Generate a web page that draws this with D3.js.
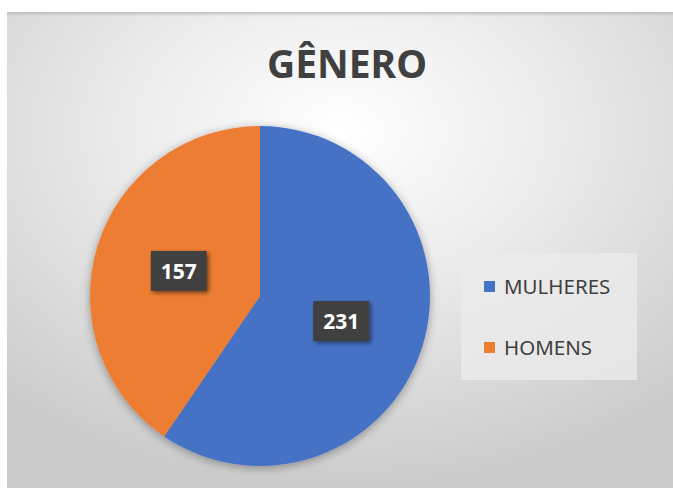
<!DOCTYPE html>
<html>
<head>
<meta charset="utf-8">
<script src="https://cdn.jsdelivr.net/npm/d3@7"></script>
<style>
	body { margin: 0; background: #ffffff; }
	svg { display: block; font-family: "Noto Sans", "Open Sans", sans-serif; }
</style>
</head>
<body>
<div id="chart"></div>
<script>
	//Data
	var categories = ["MULHERES", "HOMENS"];
	var values = [231, 157];
	var colors = ["#4472C4", "#ED7D31"];
	var title = "GÊNERO";

	//SVG setup
	var width = 673;
	var height = 488;
	var frame = { left: 7, top: 12 };

	var svg = d3.select("#chart")
		.append("svg")
		.attr("width", width)
		.attr("height", height);

	var defs = svg.append("defs");

	//Background gradient
	var bg = defs.append("radialGradient")
		.attr("id", "bg")
		.attr("cx", "50%").attr("cy", "25%")
		.attr("r", "75%");
	bg.append("stop").attr("offset", "0%").attr("stop-color", "#ffffff");
	bg.append("stop").attr("offset", "45%").attr("stop-color", "#eaeaea");
	bg.append("stop").attr("offset", "100%").attr("stop-color", "#cbcbcb");

	var topEdge = defs.append("linearGradient")
		.attr("id", "topEdge")
		.attr("x1", 0).attr("y1", 0).attr("x2", 0).attr("y2", 1);
	topEdge.append("stop").attr("offset", "0%").attr("stop-color", "#b8b8b8").attr("stop-opacity", 0.9);
	topEdge.append("stop").attr("offset", "100%").attr("stop-color", "#d0d0d0").attr("stop-opacity", 0);

	//Soft shadow used by pie
	var shadow = defs.append("filter")
		.attr("id", "shadow")
		.attr("x", "-20%").attr("y", "-20%")
		.attr("width", "140%").attr("height", "140%");
	shadow.append("feGaussianBlur").attr("in", "SourceAlpha").attr("stdDeviation", 5).attr("result", "blur");
	shadow.append("feOffset").attr("in", "blur").attr("dx", 0).attr("dy", 2).attr("result", "off");
	shadow.append("feComponentTransfer").attr("in", "off").attr("result", "soft")
		.append("feFuncA").attr("type", "linear").attr("slope", 0.35);
	var merge = shadow.append("feMerge");
	merge.append("feMergeNode").attr("in", "soft");
	merge.append("feMergeNode").attr("in", "SourceGraphic");

	//Shadow for label boxes
	var boxShadow = defs.append("filter")
		.attr("id", "boxShadow")
		.attr("x", "-30%").attr("y", "-30%")
		.attr("width", "160%").attr("height", "160%");
	boxShadow.append("feGaussianBlur").attr("in", "SourceAlpha").attr("stdDeviation", 2).attr("result", "blur");
	boxShadow.append("feOffset").attr("in", "blur").attr("dx", 2).attr("dy", 2).attr("result", "off");
	boxShadow.append("feComponentTransfer").attr("in", "off").attr("result", "soft")
		.append("feFuncA").attr("type", "linear").attr("slope", 0.5);
	var merge2 = boxShadow.append("feMerge");
	merge2.append("feMergeNode").attr("in", "soft");
	merge2.append("feMergeNode").attr("in", "SourceGraphic");

	//Chart area
	svg.append("rect")
		.attr("x", frame.left).attr("y", frame.top)
		.attr("width", width - frame.left).attr("height", height - frame.top)
		.attr("fill", "url(#bg)");
	svg.append("rect")
		.attr("x", frame.left).attr("y", frame.top)
		.attr("width", width - frame.left).attr("height", 5)
		.attr("fill", "url(#topEdge)");

	//Title
	svg.append("text")
		.attr("x", 347)
		.attr("y", 78)
		.attr("text-anchor", "middle")
		.attr("font-size", 39)
		.attr("font-weight", "bold")
		.attr("fill", "#404040")
		.text(title);

	//Pie
	var radius = 170;
	var pieG = svg.append("g")
		.attr("transform", "translate(260,296)");

	var pie = d3.pie().sort(null).value(function(d) { return d; });
	var arc = d3.arc().innerRadius(0).outerRadius(radius);
	var arcs = pie(values);

	pieG.append("g")
		.attr("filter", "url(#shadow)")
		.selectAll("path")
		.data(arcs)
		.enter()
		.append("path")
		.attr("d", arc)
		.attr("fill", function(d, i) { return colors[i]; });

	//Data labels
	var labels = pieG.selectAll(".label")
		.data(arcs)
		.enter()
		.append("g")
		.attr("class", "label")
		.attr("transform", function(d) {
			var c = arc.centroid(d);
			return "translate(" + c[0] + "," + c[1] + ")";
		});
	labels.append("rect")
		.attr("x", -28).attr("y", -20)
		.attr("width", 56).attr("height", 40)
		.attr("fill", "#404040")
		.attr("filter", "url(#boxShadow)");
	labels.append("text")
		.attr("text-anchor", "middle")
		.attr("y", 8)
		.attr("font-size", 21)
		.attr("font-weight", "bold")
		.attr("fill", "#ffffff")
		.text(function(d) { return d.data; });

	//Legend
	var legend = svg.append("g")
		.attr("transform", "translate(461,253)");
	legend.append("rect")
		.attr("width", 176).attr("height", 127)
		.attr("fill", "#ebebeb")
		.attr("opacity", 0.8);
	var item = legend.selectAll(".item")
		.data(categories)
		.enter()
		.append("g")
		.attr("class", "item")
		.attr("transform", function(d, i) { return "translate(23," + (41 + i * 61) + ")"; });
	item.append("rect")
		.attr("x", 0).attr("y", -13)
		.attr("width", 11).attr("height", 11)
		.attr("fill", function(d, i) { return colors[i]; });
	item.append("text")
		.attr("x", 20)
		.attr("y", 0)
		.attr("font-size", 20.5)
		.attr("fill", "#404040")
		.text(function(d) { return d; });
</script>
</body>
</html>
